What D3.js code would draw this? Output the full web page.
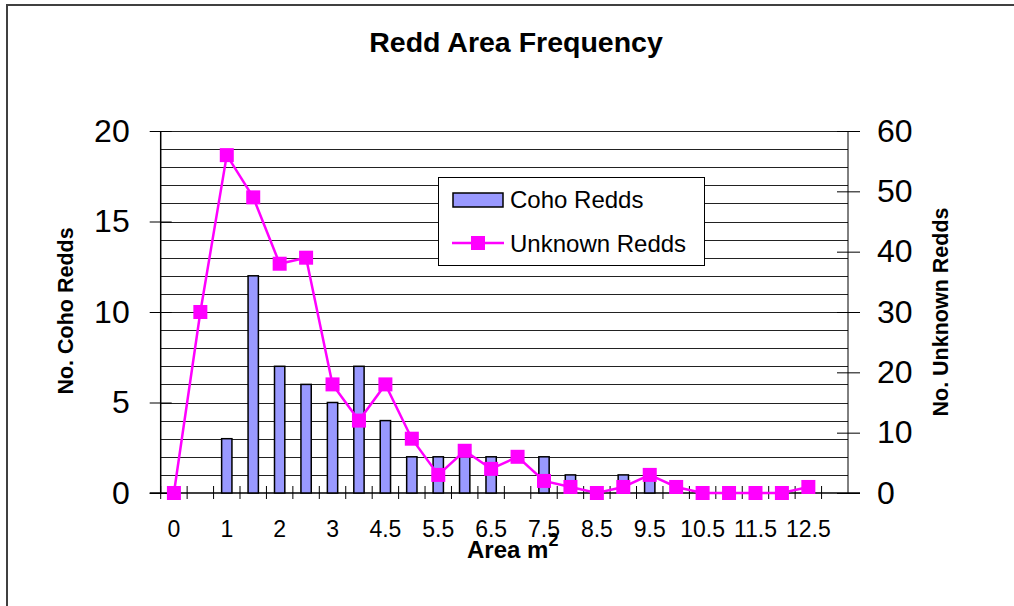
<!DOCTYPE html>
<html>
<head>
<meta charset="utf-8">
<script src="https://cdn.jsdelivr.net/npm/d3@7"></script>
<style>
body { margin: 0; background: #fff; }
text { font-family: "Liberation Sans", Arial, sans-serif; }
</style>
</head>
<body>
<div id="chart"></div>
<script>
// area classes (m2) - every other one gets a label
var categories = ["0","0.5","1","1.5","2","2.5","3","4","4.5","5","5.5","6","6.5","7","7.5","8","8.5","9","9.5","10","10.5","11","11.5","12","12.5","13"]
var cohoRedds = [0,0,3,12,7,6,5,7,4,2,2,2,2,0,2,1,0,1,1,0,0,0,0,0,0,null]
var unknownRedds = [0,30,56,49,38,39,18,12,18,9,3,7,4,6,2,1,0,1,3,1,0,0,0,0,1,null]
var leftTicks = [0,5,10,15,20]
var rightTicks = [0,10,20,30,40,50,60]

var width = 1014, height = 606
var pLeft = 160.7, pRight = 848, pTop = 131, pBottom = 493

var svg = d3.select("#chart").append("svg")
    .attr("width", width)
    .attr("height", height)

// outer frame (only top and left visible)
svg.append("path")
    .attr("d", "M7,606V5H1014")
    .attr("fill", "none")
    .attr("stroke", "#404040")
    .attr("stroke-width", 2)

var x = d3.scaleBand().domain(categories).range([pLeft, pRight]).padding(0)
var bw = x.bandwidth()
var yL = d3.scaleLinear().domain([0, 20]).range([pBottom, pTop])
var yR = d3.scaleLinear().domain([0, 60]).range([pBottom, pTop])

// gridlines, one per coho unit
svg.append("g").selectAll("line")
    .data(d3.range(1, 21))
    .enter().append("line")
    .attr("x1", pLeft).attr("x2", pRight)
    .attr("y1", function(d){ return Math.round(yL(d)) + 0.5 })
    .attr("y2", function(d){ return Math.round(yL(d)) + 0.5 })
    .attr("stroke", "#222")
    .attr("stroke-width", 1)

// left axis
var gl = svg.append("g").attr("transform", "translate(" + pLeft + ",0)")
    .call(d3.axisLeft(yL).tickValues(leftTicks).tickSize(11).tickPadding(20))
gl.select(".domain").attr("stroke", "#000").attr("stroke-width", 1.5).attr("d", "M0," + pTop + "V" + pBottom)
gl.selectAll(".tick line").attr("x1", -11).attr("x2", 11).attr("stroke", "#000")
gl.selectAll(".tick text").attr("font-size", 32).attr("fill", "#000")
    .style("font-family", "'Liberation Sans', Arial, sans-serif")

// right axis
var gr = svg.append("g").attr("transform", "translate(" + pRight + ",0)")
    .call(d3.axisRight(yR).tickValues(rightTicks).tickSize(11).tickPadding(18))
gr.select(".domain").attr("stroke", "#000").attr("stroke-width", 1).attr("d", "M0," + pTop + "V" + pBottom)
gr.selectAll(".tick line").attr("x1", -11).attr("x2", 12).attr("stroke", "#000")
gr.selectAll(".tick text").attr("font-size", 32).attr("fill", "#000")
    .style("font-family", "'Liberation Sans', Arial, sans-serif")

// bottom axis: line, ticks at class boundaries, every second label
svg.append("line")
    .attr("x1", pLeft - 11).attr("x2", pRight + 12)
    .attr("y1", pBottom).attr("y2", pBottom)
    .attr("stroke", "#000").attr("stroke-width", 1.5)
svg.append("g").selectAll("line")
    .data(categories)
    .enter().append("line")
    .attr("x1", function(d){ return x(d) }).attr("x2", function(d){ return x(d) })
    .attr("y1", pBottom - 7).attr("y2", pBottom + 6)
    .attr("stroke", "#000")
svg.append("g").selectAll("text")
    .data(categories.filter(function(d, i){ return i % 2 == 0 }))
    .enter().append("text")
    .attr("x", function(d){ return x(d) + bw / 2 })
    .attr("y", 537)
    .attr("text-anchor", "middle")
    .attr("font-size", 23)
    .text(function(d){ return d })

// coho bars
svg.append("g").selectAll("rect")
    .data(categories.map(function(c, i){ return {c: c, v: cohoRedds[i]} }).filter(function(d){ return d.v > 0 }))
    .enter().append("rect")
    .attr("x", function(d){ return x(d.c) + bw * 0.305 })
    .attr("width", bw * 0.39)
    .attr("y", function(d){ return yL(d.v) })
    .attr("height", function(d){ return pBottom - yL(d.v) })
    .attr("fill", "#9999FF")
    .attr("stroke", "#000")
    .attr("stroke-width", 1.5)

// unknown redds line
var pts = categories.map(function(c, i){ return {c: c, v: unknownRedds[i]} }).filter(function(d){ return d.v != null })
var line = d3.line()
    .x(function(d){ return x(d.c) + bw / 2 })
    .y(function(d){ return yR(d.v) })
svg.append("path")
    .datum(pts)
    .attr("d", line)
    .attr("fill", "none")
    .attr("stroke", "#FF00FF")
    .attr("stroke-width", 2.5)
svg.append("g").selectAll("rect")
    .data(pts)
    .enter().append("rect")
    .attr("x", function(d){ return x(d.c) + bw / 2 - 7 })
    .attr("y", function(d){ return yR(d.v) - 7 })
    .attr("width", 14).attr("height", 14)
    .attr("fill", "#FF00FF")

// title + axis titles
svg.append("text")
    .attr("x", 516).attr("y", 52)
    .attr("text-anchor", "middle")
    .attr("font-size", 28.5).attr("font-weight", "bold")
    .text("Redd Area Frequency")

svg.append("text")
    .attr("transform", "translate(73,311) rotate(-90)")
    .attr("text-anchor", "middle")
    .attr("font-size", 21.5).attr("font-weight", "bold")
    .text("No. Coho Redds")

svg.append("text")
    .attr("transform", "translate(948,312) rotate(-90)")
    .attr("text-anchor", "middle")
    .attr("font-size", 21.5).attr("font-weight", "bold")
    .text("No. Unknown Redds")

var xt = svg.append("text")
    .attr("x", 467).attr("y", 558)
    .attr("font-size", 24).attr("font-weight", "bold")
xt.append("tspan").text("Area m")
xt.append("tspan").attr("dy", -12).attr("font-size", 18).text("2")

// legend
var lg = svg.append("g").attr("transform", "translate(438,177)")
lg.append("rect")
    .attr("x", 0.5).attr("y", 0.5)
    .attr("width", 266).attr("height", 88)
    .attr("fill", "#fff").attr("stroke", "#000")
lg.append("rect")
    .attr("x", 15).attr("y", 16)
    .attr("width", 50).attr("height", 14)
    .attr("fill", "#9999FF").attr("stroke", "#000").attr("stroke-width", 1.5)
lg.append("text")
    .attr("x", 72).attr("y", 31)
    .attr("font-size", 24)
    .text("Coho Redds")
lg.append("line")
    .attr("x1", 14).attr("x2", 66)
    .attr("y1", 66).attr("y2", 66)
    .attr("stroke", "#FF00FF").attr("stroke-width", 2.5)
lg.append("rect")
    .attr("x", 33).attr("y", 59)
    .attr("width", 14).attr("height", 14)
    .attr("fill", "#FF00FF")
lg.append("text")
    .attr("x", 72).attr("y", 75)
    .attr("font-size", 24)
    .text("Unknown Redds")
</script>
</body>
</html>
